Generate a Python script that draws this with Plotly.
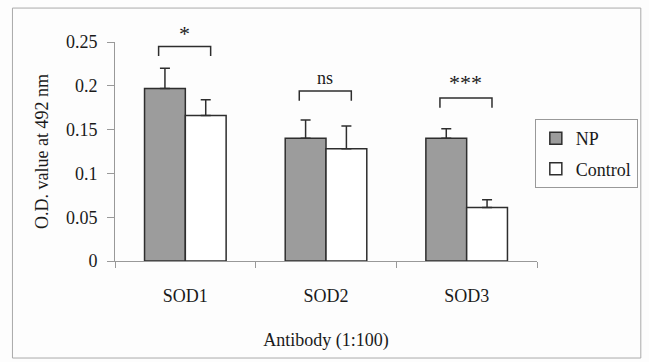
import plotly.graph_objects as go

categories = ["SOD1", "SOD2", "SOD3"]
np_values = [0.197, 0.140, 0.140]
np_errors = [0.023, 0.021, 0.011]
control_values = [0.166, 0.128, 0.061]
control_errors = [0.018, 0.026, 0.009]
sig_labels = ["*", "ns", "***"]
bracket_heights = [0.245, 0.194, 0.186]
y_ticks = [0, 0.05, 0.1, 0.15, 0.2, 0.25]
y_tick_labels = ["0", "0.05", "0.1", "0.15", "0.2", "0.25"]

FONT = "Liberation Serif"
EDGE = "#2e2e2e"
TXT = "#1a1a1a"
FS = 18

fig = go.Figure()
fig.add_trace(go.Bar(
    x=categories, y=np_values, name="NP", legendgroup="np",
    marker=dict(color="#9c9c9c", line=dict(color=EDGE, width=1.5)),
    error_y=dict(type="data", array=np_errors, arrayminus=[0] * len(np_errors),
                 symmetric=False, color=EDGE, thickness=1.5, width=5),
))
fig.add_trace(go.Bar(
    x=categories, y=control_values, name="Control", legendgroup="ctrl",
    marker=dict(color="#ffffff", line=dict(color=EDGE, width=1.5)),
    error_y=dict(type="data", array=control_errors, arrayminus=[0] * len(control_errors),
                 symmetric=False, color=EDGE, thickness=1.5, width=5),
))

# significance brackets
for i, (lab, h) in enumerate(zip(sig_labels, bracket_heights)):
    x0, x1 = i - 0.19, i + 0.18
    leg = 0.011
    fig.add_shape(type="path", xref="x", yref="y",
                  path=f"M {x0},{h - leg} L {x0},{h} L {x1},{h} L {x1},{h - leg}",
                  line=dict(color=EDGE, width=1.5))
    fig.add_annotation(x=(x0 + x1) / 2, y=h, xref="x", yref="y", text=lab,
                       showarrow=False, yanchor="bottom", yshift=1 if lab != "*" else -2,
                       font=dict(family=FONT, size=22 if "*" in lab else FS, color=TXT))

# outer frame
fig.add_shape(type="rect", xref="paper", yref="paper",
              x0=-0.243, x1=1.246, y0=-0.443, y1=1.155,
              line=dict(color="#aaaaaa", width=1))

fig.update_layout(
    width=649, height=362,
    margin=dict(l=115, r=111, t=42, b=101),
    paper_bgcolor="#fdfdfd", plot_bgcolor="#fdfdfd",
    barmode="group", bargap=0.42, bargroupgap=0,
    font=dict(family=FONT, size=FS, color=TXT),
    showlegend=True,
    legend=dict(x=1.236, y=0.648, xanchor="right", yanchor="top",
                bordercolor="#999999", borderwidth=1, bgcolor="#fdfdfd",
                font=dict(family=FONT, size=FS, color=TXT),
                tracegroupgap=4, itemwidth=30),
    xaxis=dict(
        range=[-0.5, 2.5], showgrid=False, showline=True, linecolor="#999999", linewidth=1,
        ticks="outside", tickson="boundaries", ticklen=6, tickcolor="#999999",
        ticklabelstandoff=18,
        tickfont=dict(family=FONT, size=FS, color=TXT),
        title=dict(text="Antibody (1:100)", font=dict(family=FONT, size=FS, color=TXT), standoff=28),
    ),
    yaxis=dict(
        range=[0, 0.25], showgrid=False, zeroline=False, showline=True, linecolor="#999999", linewidth=1,
        ticks="outside", ticklen=7, tickcolor="#999999",
        tickvals=y_ticks, ticktext=y_tick_labels, ticklabelstandoff=6,
        tickfont=dict(family=FONT, size=FS, color=TXT),
        title=dict(text="O.D. value at 492 nm", font=dict(family=FONT, size=FS, color=TXT), standoff=12),
    ),
)

fig.write_html("out.html")
